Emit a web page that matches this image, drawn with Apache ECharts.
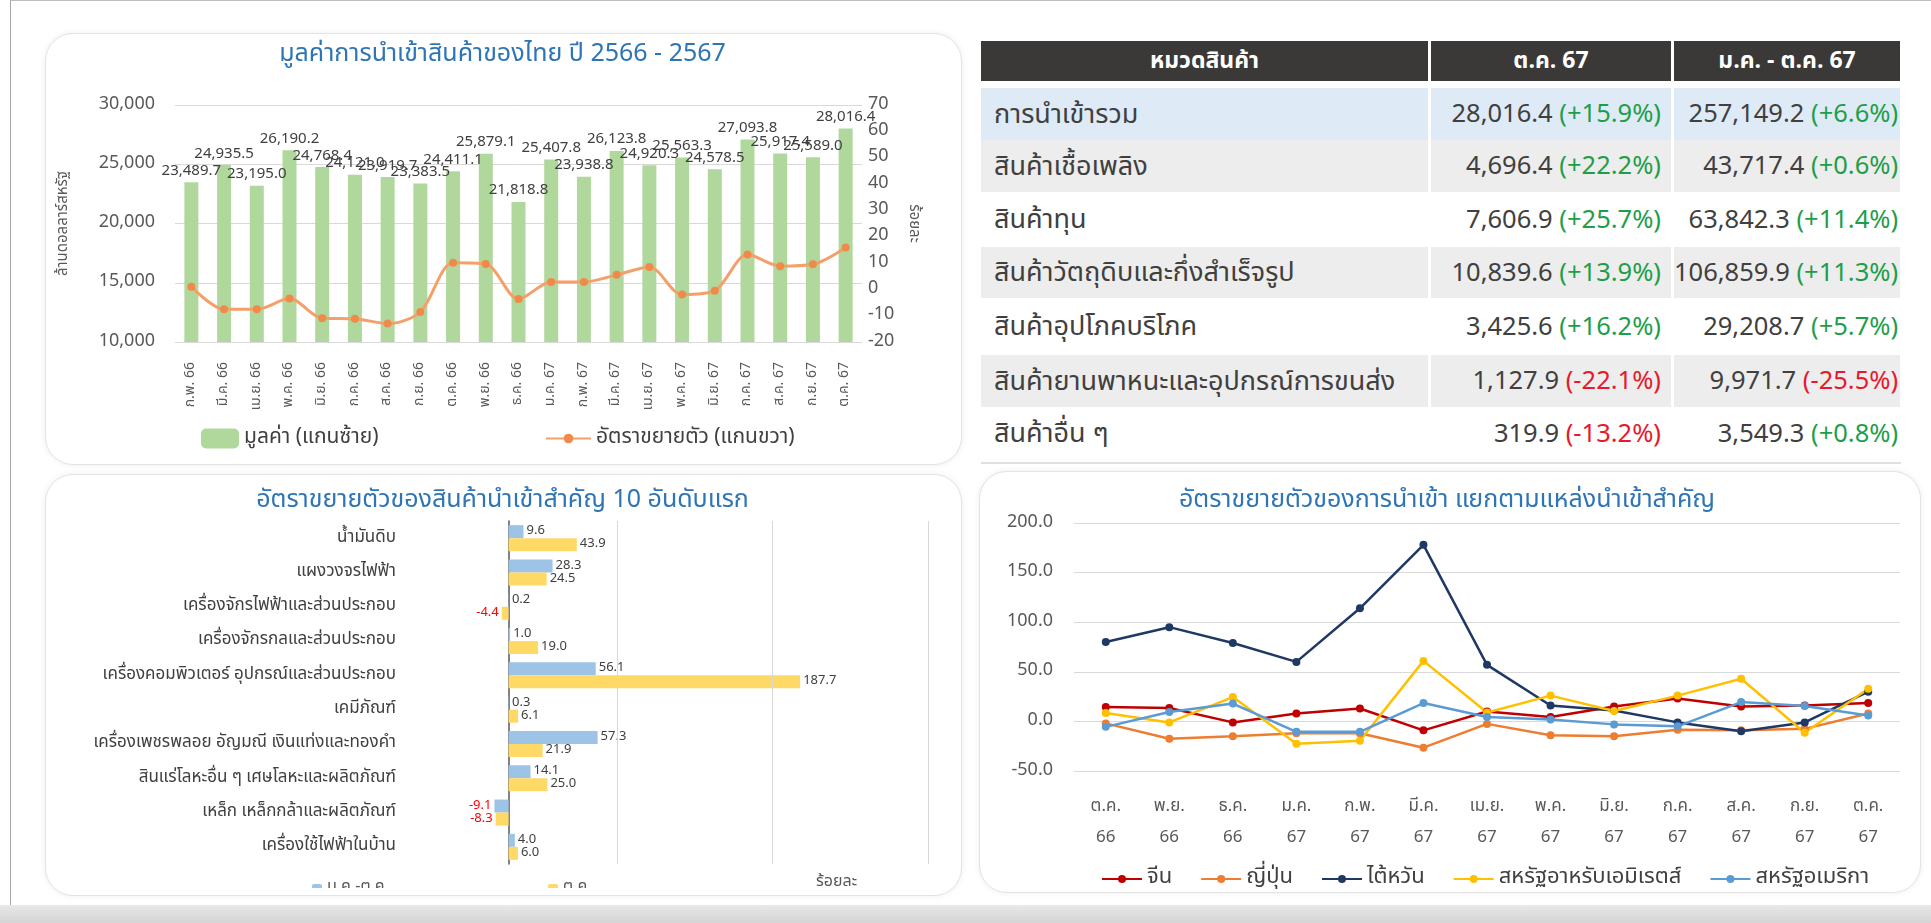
<!DOCTYPE html>
<html>
<head>
<meta charset="utf-8">
<script src="https://cdn.jsdelivr.net/npm/echarts@6/dist/echarts.min.js"></script>
<style>
  body { margin: 0; width: 1931px; height: 923px; background: #fff; overflow: hidden; position: relative;
         font-family: "Noto Sans Thai", "Noto Sans", sans-serif; }
  .frame { position: absolute; left: 10px; top: 0; width: 1921px; height: 905px; border-left: 1px solid #a6a6a6; border-top: 1px solid #bdbdbd; }
  .strip { position: absolute; left: 0; top: 905px; width: 1931px; height: 18px; background: linear-gradient(#e8e8e8, #d4d4d4); }
  .card { position: absolute; border: 1px solid #e3e3e3; border-radius: 28px; box-shadow: 0 0 6px rgba(0,0,0,0.07); background: #fff; }
  .chart { position: absolute; overflow: hidden; }
  #tbl { position: absolute; left: 981px; top: 41px; border-collapse: separate; border-spacing: 0; table-layout: fixed; color: #404040; }
  #tbl th { background: #3b3838; color: #fff; font-size: 23px; font-weight: bold; height: 40px; padding: 0; border-right: 3px solid #fff; }
  #tbl td { font-size: 25.5px; padding: 0; border-right: 3px solid #fff; white-space: nowrap; overflow: hidden; }
  #tbl td.cat { padding-left: 13px; font-size: 27px; }
  #tbl td.num { text-align: right; padding-right: 10px; }
  #tbl td.num3 { text-align: right; padding-right: 2px; }
  #tbl tr.spacer td { height: 7px; background: #fff; }
  .pos { color: #1f9e4a; }
  .neg { color: #e8192c; }
  #tblLine { position: absolute; left: 981px; top: 462px; width: 920px; height: 2px; background: #e0e0e0; }
</style>
</head>
<body>
<div class="frame"></div>
<div class="card" style="left:45px;top:33px;width:915px;height:430px;"></div>
<div class="card" style="left:45px;top:474px;width:915px;height:420px;"></div>
<div class="card" style="left:979px;top:471px;width:940px;height:420px;"></div>
<div id="c1" class="chart" style="left:45px;top:33px;width:915px;height:430px;"></div>
<div id="c3" class="chart" style="left:45px;top:474px;width:915px;height:414px;"></div>
<div id="c4" class="chart" style="left:979px;top:471px;width:936px;height:420px;"></div>
<table id="tbl"></table>
<div id="tblLine"></div>
<div class="strip"></div>
<script>
var FONT = '"Noto Sans Thai", "Noto Sans", sans-serif';

// ---- chart 1: import value & growth
var months1 = ['ก.พ. 66', 'มี.ค. 66', 'เม.ย. 66', 'พ.ค. 66', 'มิ.ย. 66', 'ก.ค. 66', 'ส.ค. 66', 'ก.ย. 66',
  'ต.ค. 66', 'พ.ย. 66', 'ธ.ค. 66', 'ม.ค. 67', 'ก.พ. 67', 'มี.ค. 67', 'เม.ย. 67', 'พ.ค. 67',
  'มิ.ย. 67', 'ก.ค. 67', 'ส.ค. 67', 'ก.ย. 67', 'ต.ค. 67'];
var importValue = [23489.7, 24935.5, 23195.0, 26190.2, 24768.4, 24121.0, 23919.7, 23383.5,
  24411.1, 25879.1, 21818.8, 25407.8, 23938.8, 26123.8, 24920.3, 25563.3,
  24578.5, 27093.8, 25917.4, 25589.0, 28016.4];
var importGrowth = [1.0, -7.6, -7.6, -3.5, -11.0, -11.2, -13.0, -8.6,
  10.1, 9.6, -3.7, 2.8, 2.8, 5.5, 8.5, -2.0,
  -0.5, 13.2, 8.8, 9.5, 15.9];

// ---- table
var tableCats = ['การนำเข้ารวม', 'สินค้าเชื้อเพลิง', 'สินค้าทุน', 'สินค้าวัตถุดิบและกึ่งสำเร็จรูป',
  'สินค้าอุปโภคบริโภค', 'สินค้ายานพาหนะและอุปกรณ์การขนส่ง', 'สินค้าอื่น ๆ'];
var octValue = [28016.4, 4696.4, 7606.9, 10839.6, 3425.6, 1127.9, 319.9];
var octGrowth = [15.9, 22.2, 25.7, 13.9, 16.2, -22.1, -13.2];
var ytdValue = [257149.2, 43717.4, 63842.3, 106859.9, 29208.7, 9971.7, 3549.3];
var ytdGrowth = [6.6, 0.6, 11.4, 11.3, 5.7, -25.5, 0.8];

// ---- chart 3: top 10 products growth
var products = ['น้ำมันดิบ', 'แผงวงจรไฟฟ้า', 'เครื่องจักรไฟฟ้าและส่วนประกอบ', 'เครื่องจักรกลและส่วนประกอบ',
  'เครื่องคอมพิวเตอร์ อุปกรณ์และส่วนประกอบ', 'เคมีภัณฑ์', 'เครื่องเพชรพลอย อัญมณี เงินแท่งและทองคำ',
  'สินแร่โลหะอื่น ๆ เศษโลหะและผลิตภัณฑ์', 'เหล็ก เหล็กกล้าและผลิตภัณฑ์', 'เครื่องใช้ไฟฟ้าในบ้าน'];
var growthYtd = [9.6, 28.3, 0.2, 1.0, 56.1, 0.3, 57.3, 14.1, -9.1, 4.0];
var growthOct = [43.9, 24.5, -4.4, 19.0, 187.7, 6.1, 21.9, 25.0, -8.3, 6.0];
var gridMarks = [70, 170, 270];

// ---- chart 4: growth by source
var months4 = ['ต.ค.\n66', 'พ.ย.\n66', 'ธ.ค.\n66', 'ม.ค.\n67', 'ก.พ.\n67', 'มี.ค.\n67', 'เม.ย.\n67',
  'พ.ค.\n67', 'มิ.ย.\n67', 'ก.ค.\n67', 'ส.ค.\n67', 'ก.ย.\n67', 'ต.ค.\n67'];
var china = [14.5, 13.5, -1.0, 8.0, 13.0, -9.0, 10.0, 4.5, 15.0, 23.0, 15.0, 16.0, 18.5];
var japan = [-2.0, -17.5, -15.0, -12.0, -12.0, -26.5, -2.5, -14.0, -15.0, -8.5, -9.0, -7.5, 8.0];
var taiwan = [80.0, 95.0, 79.0, 60.0, 114.0, 178.0, 57.0, 16.0, 11.0, -1.0, -10.0, -1.0, 30.0];
var uae = [8.5, -1.0, 24.5, -22.5, -19.5, 61.0, 9.0, 26.0, 10.5, 26.0, 43.0, -11.5, 33.0];
var usa = [-5.5, 9.5, 18.0, -10.5, -10.5, 18.5, 4.5, 2.0, -3.0, -5.0, 19.5, 15.5, 6.0];

function fmt1(v) {
  return v.toLocaleString('en-US', { minimumFractionDigits: 1, maximumFractionDigits: 1 });
}
function pct(v) {
  return '<span class="' + (v < 0 ? 'neg' : 'pos') + '">(' + (v < 0 ? '-' : '+') + Math.abs(v).toFixed(1) + '%)</span>';
}

// table
var rowBg = ['#deebf7', '#ededed', '#ffffff', '#ededed', '#ffffff', '#ededed', '#ffffff'];
var rowH = [52, 52, 55, 51, 57, 52, 53];
var html = '<colgroup><col style="width:450px"><col style="width:243px"><col style="width:222px"></colgroup>';
html += '<tr><th>หมวดสินค้า</th><th>ต.ค. 67</th><th>ม.ค. - ต.ค. 67</th></tr>';
html += '<tr class="spacer"><td></td><td></td><td></td></tr>';
for (var i = 0; i < tableCats.length; i++) {
  var st = ' style="background:' + rowBg[i] + ';height:' + rowH[i] + 'px"';
  html += '<tr><td class="cat"' + st + '>' + tableCats[i] + '</td>' +
    '<td class="num"' + st + '>' + fmt1(octValue[i]) + ' ' + pct(octGrowth[i]) + '</td>' +
    '<td class="num3"' + st + '>' + fmt1(ytdValue[i]) + ' ' + pct(ytdGrowth[i]) + '</td></tr>';
}
document.getElementById('tbl').innerHTML = html;

var titleStyle = { color: '#2e75b6', fontSize: 25, fontWeight: 'normal', fontFamily: FONT };

// chart 1
var chart1 = echarts.init(document.getElementById('c1'));
chart1.setOption({
  animation: false,
  textStyle: { fontFamily: FONT },
  title: { text: 'มูลค่าการนำเข้าสินค้าของไทย ปี 2566 - 2567', left: 'center', top: 5, textStyle: titleStyle },
  grid: { left: 130, right: 98, top: 72, bottom: 121 },
  legend: [
    { data: ['มูลค่า (แกนซ้าย)'], left: 151, top: 390, itemWidth: 38, itemHeight: 20,
      textStyle: { fontSize: 21, color: '#404040' } },
    { data: ['อัตราขยายตัว (แกนขวา)'], left: 495, top: 390, itemWidth: 45, itemHeight: 12,
      textStyle: { fontSize: 21, color: '#404040' } }
  ],
  xAxis: {
    type: 'category', data: months1,
    axisLine: { show: false }, axisTick: { show: false },
    axisLabel: { rotate: 90, fontSize: 14, color: '#595959', margin: 20 }
  },
  yAxis: [
    { type: 'value', min: 10000, max: 30000, interval: 5000,
      name: 'ล้านดอลลาร์สหรัฐ', nameLocation: 'middle', nameGap: 104,
      nameTextStyle: { fontSize: 15, color: '#595959' },
      axisLabel: { fontSize: 18, color: '#595959', margin: 20, formatter: function (v) { return v.toLocaleString('en-US'); } },
      splitLine: { lineStyle: { color: '#d9d9d9' } } },
    { type: 'value', min: -20, max: 70, interval: 10,
      name: 'ร้อยละ', nameLocation: 'middle', nameRotate: -90, nameGap: 44,
      nameTextStyle: { fontSize: 15, color: '#595959' },
      axisLabel: { fontSize: 18, color: '#595959', margin: 6 },
      splitLine: { show: false } }
  ],
  series: [
    { name: 'มูลค่า (แกนซ้าย)', type: 'bar', data: importValue, barWidth: 14,
      itemStyle: { color: '#b0d89c' },
      label: { show: true, position: 'top', distance: 3, fontSize: 15, color: '#404040',
        formatter: function (p) { return fmt1(p.value); } } },
    { name: 'อัตราขยายตัว (แกนขวา)', type: 'line', yAxisIndex: 1, data: importGrowth, smooth: 0.3,
      symbol: 'circle', symbolSize: 8,
      lineStyle: { color: '#f4a06b', width: 3 }, itemStyle: { color: '#f08a4b' } }
  ]
});

// chart 3
function barItems(vals) {
  return vals.map(function (v) {
    return v < 0 ? { value: v, label: { position: 'left', color: '#ff0000' } } : v;
  });
}
var chart3 = echarts.init(document.getElementById('c3'));
chart3.setOption({
  animation: false,
  textStyle: { fontFamily: FONT },
  title: { text: 'อัตราขยายตัวของสินค้านำเข้าสำคัญ 10 อันดับแรก', left: 'center', top: 10, textStyle: titleStyle },
  grid: { left: 417, right: 32, top: 47, bottom: 24 },
  legend: [
    { data: ['ม.ค.-ต.ค.'], left: 262, top: 401, itemWidth: 10, itemHeight: 8, textStyle: { fontSize: 16, color: '#595959' } },
    { data: ['ต.ค.'], left: 498, top: 401, itemWidth: 10, itemHeight: 8, textStyle: { fontSize: 16, color: '#595959' } }
  ],
  graphic: [{ type: 'text', left: 771, top: 401, style: { text: 'ร้อยละ', fontSize: 16, fill: '#595959', fontFamily: FONT } }],
  xAxis: { type: 'value', min: -30, max: 270, axisLabel: { show: false }, axisLine: { show: false },
    axisTick: { show: false }, splitLine: { show: false } },
  yAxis: { type: 'category', inverse: true, data: products,
    axisTick: { show: false }, axisLine: { lineStyle: { color: '#595959', width: 1.5 } },
    axisLabel: { fontSize: 17, color: '#404040', margin: 66 } },
  series: [
    { type: 'line', data: [], z: 1, silent: true,
      markLine: { silent: true, symbol: 'none', label: { show: false },
        lineStyle: { color: '#d9d9d9', type: 'solid', width: 1 },
        data: gridMarks.map(function (m) { return { xAxis: m }; }) } },
    { name: 'ม.ค.-ต.ค.', type: 'bar', data: barItems(growthYtd), barWidth: 13, barGap: '0%', z: 2,
      itemStyle: { color: '#9dc3e6' },
      label: { show: true, position: 'right', distance: 3, fontSize: 13, color: '#404040',
        formatter: function (p) { return p.value.toFixed(1); } } },
    { name: 'ต.ค.', type: 'bar', data: barItems(growthOct), barWidth: 13, barGap: '0%', z: 2,
      itemStyle: { color: '#ffd966' },
      label: { show: true, position: 'right', distance: 3, fontSize: 13, color: '#404040',
        formatter: function (p) { return p.value.toFixed(1); } } }
  ]
});

// chart 4
var srcNames = ['จีน', 'ญี่ปุ่น', 'ไต้หวัน', 'สหรัฐอาหรับเอมิเรตส์', 'สหรัฐอเมริกา'];
var srcData = [china, japan, taiwan, uae, usa];
var srcColors = ['#c00000', '#ed7d31', '#1f3864', '#ffc000', '#5b9bd5'];
var chart4 = echarts.init(document.getElementById('c4'));
chart4.setOption({
  animation: false,
  textStyle: { fontFamily: FONT },
  title: { text: 'อัตราขยายตัวของการนำเข้า แยกตามแหล่งนำเข้าสำคัญ', left: 'center', top: 13, textStyle: titleStyle },
  grid: { left: 95, right: 15, top: 52, bottom: 120 },
  legend: { data: srcNames, left: 117, top: 392, itemWidth: 40, itemHeight: 10, itemGap: 28,
    textStyle: { fontSize: 22, color: '#404040' } },
  xAxis: { type: 'category', data: months4, axisLine: { show: false }, axisTick: { show: false },
    axisLabel: { fontSize: 17, color: '#595959', lineHeight: 31, margin: 21 } },
  yAxis: { type: 'value', min: -50, max: 200, interval: 50,
    axisLabel: { fontSize: 18, color: '#595959', margin: 21, formatter: function (v) { return v.toFixed(1); } },
    splitLine: { lineStyle: { color: '#d9d9d9' } } },
  series: srcNames.map(function (n, i) {
    return { name: n, type: 'line', data: srcData[i], symbol: 'circle', symbolSize: 8,
      lineStyle: { color: srcColors[i], width: 2.5 }, itemStyle: { color: srcColors[i] } };
  })
});
</script>
</body>
</html>
